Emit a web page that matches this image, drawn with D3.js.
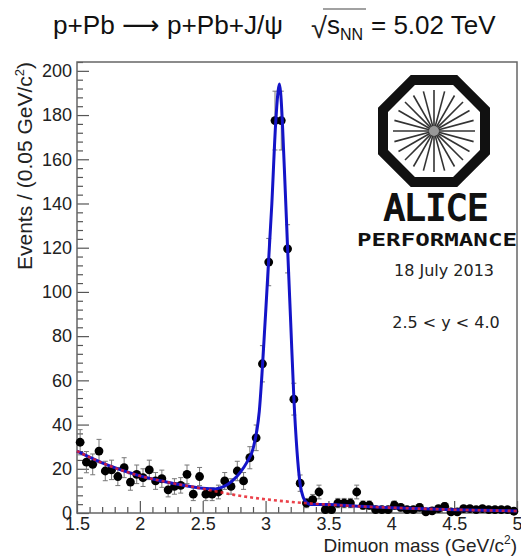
<!DOCTYPE html>
<html>
<head>
<meta charset="utf-8">
<script src="https://cdn.jsdelivr.net/npm/d3@7"></script>
<style>
  body { margin: 0; background: #fff; }
  svg { display: block; font-family: "Liberation Sans", Arial, sans-serif; }
</style>
</head>
<body>
<div id="chart"></div>
<script>
let width = 521,
    height = 557,
    margin = ({ top: 62, right: 4, bottom: 44, left: 77 });

// bin centres (GeV/c^2), 0.05 wide
const binCenters = [
  1.525, 1.575, 1.625, 1.675, 1.725, 1.775, 1.825, 1.875, 1.925, 1.975,
  2.025, 2.075, 2.125, 2.175, 2.225, 2.275, 2.325, 2.375, 2.425, 2.475,
  2.525, 2.575, 2.625, 2.675, 2.725, 2.775, 2.825, 2.875, 2.925, 2.975,
  3.025, 3.075, 3.125, 3.175, 3.225, 3.275, 3.325, 3.375, 3.425, 3.475,
  3.525, 3.575, 3.625, 3.675, 3.725, 3.775, 3.825, 3.875, 3.925, 3.975,
  4.025, 4.075, 4.125, 4.175, 4.225, 4.275, 4.325, 4.375, 4.425, 4.475,
  4.525, 4.575, 4.625, 4.675, 4.725, 4.775, 4.825, 4.875, 4.925, 4.975
];
const counts = [
  32, 23, 22, 28, 19, 19.5, 16.5, 20.5, 14, 17.5,
  16, 19.5, 14.5, 15.5, 10.5, 12, 12.5, 17.5, 8.5, 16.5,
  8.5, 8.5, 9.5, 14.5, 12, 19, 14.5, 25, 34, 67.5,
  113.5, 177.5, 177.5, 119.5, 51.5, 13.5, 4.5, 6, 9.5, 1.5,
  1.5, 4.5, 4.5, 4.5, 9.5, 3.5, 3.5, 1.5, 1.5, 1.5,
  3.5, 2.5, 1.5, 1.5, 2.5, 0.5, 1, 2, 3, 0.5,
  0.5, 2, 2, 1.5, 2, 1.5, 1.5, 1.5, 1.5, 0.8
];
const errors = [
  5.7, 4.8, 4.7, 5.3, 4.4, 4.4, 4.1, 4.5, 3.7, 4.2,
  4.0, 4.4, 3.8, 3.9, 3.2, 3.5, 3.5, 4.2, 2.9, 4.1,
  2.9, 2.9, 3.1, 3.8, 3.5, 4.4, 3.8, 5.0, 5.8, 8.2,
  10.7, 13.3, 13.3, 10.9, 7.2, 3.7, 2.1, 2.4, 3.1, 1.2,
  1.2, 2.1, 2.1, 2.1, 3.1, 1.9, 1.9, 1.2, 1.2, 1.2,
  1.9, 1.6, 1.2, 1.2, 1.6, 0.7, 1.0, 1.4, 1.7, 0.7,
  0.7, 1.4, 1.4, 1.2, 1.4, 1.2, 1.2, 1.2, 1.2, 0.9
];

// background fit (red dashed)
const bkgMass = [1.5, 1.75, 2.0, 2.25, 2.5, 2.75, 3.0, 3.25, 3.5, 3.75, 4.0, 4.5, 5.0];
const bkgFit  = [28, 21.5, 16.8, 13.6, 11, 8.2, 6.2, 4.8, 3.8, 3.0, 2.4, 1.5, 0.9];

// total fit (blue)
const totMass = [1.5, 1.75, 2.0, 2.25, 2.5, 2.6, 2.65, 2.7, 2.75, 2.8, 2.85, 2.9, 2.95,
                 3.0, 3.05, 3.08, 3.1, 3.11, 3.12, 3.15, 3.175, 3.2, 3.225, 3.25,
                 3.275, 3.3, 3.33, 3.36, 3.5, 3.75, 4.0, 4.5, 5.0];
const totFit  = [28, 21.5, 16.8, 13.6, 11.2, 10.9, 11.6, 13, 15.3, 18.5, 22.8, 29, 46,
                 90, 140, 176, 191, 194, 190, 155, 120, 86, 52, 28,
                 13, 7, 4.5, 3.9, 3.8, 3.0, 2.4, 1.5, 0.9];

const xMajor = [1.5, 2, 2.5, 3, 3.5, 4, 4.5, 5];
const yMajor = [0, 20, 40, 60, 80, 100, 120, 140, 160, 180, 200];

const svg = d3.select("#chart")
  .append("svg")
  .attr("width", width)
  .attr("height", height);

let x = d3.scaleLinear()
  .domain([1.5, 5])
  .range([margin.left, width - margin.right]);

let y = d3.scaleLinear()
  .domain([0, 204])
  .range([height - margin.bottom, margin.top]);

// axes, ROOT style: ticks inside the frame
let xMinor = d3.range(15, 51).map(d => d / 10).filter(d => !xMajor.some(m => Math.abs(m - d) < 1e-6));
let yMinor = d3.range(0, 205, 4).filter(d => d % 20 !== 0);

svg.append("g")
  .attr("transform", `translate(0,${y(0)})`)
  .call(d3.axisBottom(x).tickValues(xMinor).tickSize(-6).tickFormat(""))
  .call(g => g.select(".domain").remove());

svg.append("g")
  .attr("class", "xaxis")
  .attr("transform", `translate(0,${y(0)})`)
  .call(d3.axisBottom(x).tickValues(xMajor).tickSize(-12).tickPadding(4).tickFormat(d3.format("")))
  .call(g => g.select(".domain").remove());

svg.append("g")
  .attr("transform", `translate(${x(1.5)},0)`)
  .call(d3.axisLeft(y).tickValues(yMinor).tickSize(-6).tickFormat(""))
  .call(g => g.select(".domain").remove());

svg.append("g")
  .attr("class", "yaxis")
  .attr("transform", `translate(${x(1.5)},0)`)
  .call(d3.axisLeft(y).tickValues(yMajor).tickSize(-12).tickPadding(5))
  .call(g => g.select(".domain").remove());

svg.selectAll(".tick line").attr("stroke", "#555").attr("stroke-width", 1.2);
svg.selectAll(".xaxis text, .yaxis text")
  .attr("font-family", "Liberation Sans, Arial, sans-serif")
  .attr("font-size", 18)
  .attr("fill", "#222");

// frame
svg.append("rect")
  .attr("x", x(1.5))
  .attr("y", y(204))
  .attr("width", x(5) - x(1.5))
  .attr("height", y(0) - y(204))
  .attr("fill", "none")
  .attr("stroke", "#666")
  .attr("stroke-width", 1.5);

// data points with error bars
let points = binCenters.map((m, i) => ({ m: m, v: counts[i], e: errors[i] }));

let eb = svg.append("g").attr("stroke", "#777").attr("stroke-width", 1);
for (let d of points) {
  let lo = Math.max(0, d.v - d.e);
  eb.append("line").attr("x1", x(d.m)).attr("x2", x(d.m)).attr("y1", y(lo)).attr("y2", y(d.v + d.e));
  eb.append("line").attr("x1", x(d.m) - 2.5).attr("x2", x(d.m) + 2.5).attr("y1", y(d.v + d.e)).attr("y2", y(d.v + d.e));
  if (d.v - d.e > 0)
    eb.append("line").attr("x1", x(d.m) - 2.5).attr("x2", x(d.m) + 2.5).attr("y1", y(lo)).attr("y2", y(lo));
}

svg.append("g")
  .selectAll("circle")
  .data(points)
  .join("circle")
  .attr("cx", d => x(d.m))
  .attr("cy", d => y(d.v))
  .attr("r", 4.4)
  .attr("fill", "#000");

// fits
let line = d3.line()
  .x(d => x(d[0]))
  .y(d => y(d[1]))
  .curve(d3.curveMonotoneX);

svg.append("path")
  .datum(totMass.map((m, i) => [m, totFit[i]]))
  .attr("fill", "none")
  .attr("stroke", "#1414c8")
  .attr("stroke-width", 3)
  .attr("d", line);

svg.append("path")
  .datum(bkgMass.map((m, i) => [m, bkgFit[i]]))
  .attr("fill", "none")
  .attr("stroke", "#e8202a")
  .attr("stroke-width", 2.6)
  .attr("stroke-dasharray", "3,3")
  .attr("opacity", 0.85)
  .attr("d", line);

// axis titles
svg.append("text")
  .attr("x", x(5))
  .attr("y", 552)
  .attr("text-anchor", "end")
  .attr("font-size", 19)
  .attr("fill", "#222")
  .html('Dimuon mass (GeV/c<tspan dy="-8" font-size="12">2</tspan><tspan dy="8">)</tspan>');

svg.append("text")
  .attr("transform", "translate(32,62) rotate(-90)")
  .attr("text-anchor", "end")
  .attr("font-size", 21)
  .attr("fill", "#222")
  .html('Events / (0.05 GeV/c<tspan dy="-8" font-size="13">2</tspan><tspan dy="8">)</tspan>');

// title
svg.append("text")
  .attr("x", 53)
  .attr("y", 34)
  .attr("font-size", 26)
  .attr("fill", "#111")
  .attr("textLength", 230)
  .attr("lengthAdjust", "spacingAndGlyphs")
  .html('p+Pb <tspan font-family="DejaVu Sans">\u27f6</tspan> p+Pb+J/\u03c8');

svg.append("text")
  .attr("x", 311)
  .attr("y", 38)
  .attr("font-family", "DejaVu Sans, sans-serif")
  .attr("font-size", 29)
  .attr("font-weight", 200)
  .attr("fill", "#222")
  .text("\u221a");

svg.append("line")
  .attr("x1", 323).attr("x2", 366)
  .attr("y1", 9).attr("y2", 9)
  .attr("stroke", "#444").attr("stroke-width", 1.2);

svg.append("text")
  .attr("x", 327)
  .attr("y", 34)
  .attr("font-size", 26)
  .attr("fill", "#111")
  .html('s<tspan dy="6" font-size="16">NN</tspan>');

svg.append("text")
  .attr("x", 371)
  .attr("y", 34)
  .attr("font-size", 26)
  .attr("fill", "#111")
  .text("= 5.02 TeV");

// ALICE logo
let lx = 434, ly = 131;
let logo = svg.append("g");
let R = 51 / Math.cos(Math.PI / 8);
let oct = d3.range(8).map(k => {
  let a = Math.PI / 8 + k * Math.PI / 4;
  return [lx + R * Math.cos(a), ly + R * Math.sin(a)];
});
logo.append("polygon")
  .attr("points", oct.map(p => p.join(",")).join(" "))
  .attr("fill", "none")
  .attr("stroke", "#111")
  .attr("stroke-width", 10)
  .attr("stroke-linejoin", "miter");

for (let k = 0; k < 24; k++) {
  let a = k * Math.PI / 12;
  logo.append("line")
    .attr("x1", lx + 4 * Math.cos(a)).attr("y1", ly + 4 * Math.sin(a))
    .attr("x2", lx + 41 * Math.cos(a)).attr("y2", ly + 41 * Math.sin(a))
    .attr("stroke", "#333")
    .attr("stroke-width", 1.6);
}
logo.append("circle").attr("cx", lx).attr("cy", ly).attr("r", 5).attr("fill", "#999");

logo.append("text")
  .attr("x", 384).attr("y", 220)
  .attr("font-family", "DejaVu Sans Mono, monospace")
  .attr("font-size", 36)
  .attr("textLength", 104)
  .attr("lengthAdjust", "spacingAndGlyphs")
  .attr("fill", "#111")
  .attr("stroke", "#111")
  .attr("stroke-width", 1.8)
  .text("ALICE");

logo.append("text")
  .attr("x", 357).attr("y", 246)
  .attr("font-family", "DejaVu Sans Mono, monospace")
  .attr("font-weight", "bold")
  .attr("font-size", 18)
  .attr("textLength", 160)
  .attr("lengthAdjust", "spacingAndGlyphs")
  .attr("fill", "#111")
  .text("PERFORMANCE");

logo.append("text")
  .attr("x", 444).attr("y", 276)
  .attr("text-anchor", "middle")
  .attr("font-family", "DejaVu Sans, sans-serif")
  .attr("font-size", 16)
  .attr("fill", "#222")
  .text("18 July 2013");

logo.append("text")
  .attr("x", 446).attr("y", 328)
  .attr("text-anchor", "middle")
  .attr("font-family", "DejaVu Sans, sans-serif")
  .attr("font-size", 16)
  .attr("fill", "#222")
  .text("2.5 < y < 4.0");
</script>
</body>
</html>
